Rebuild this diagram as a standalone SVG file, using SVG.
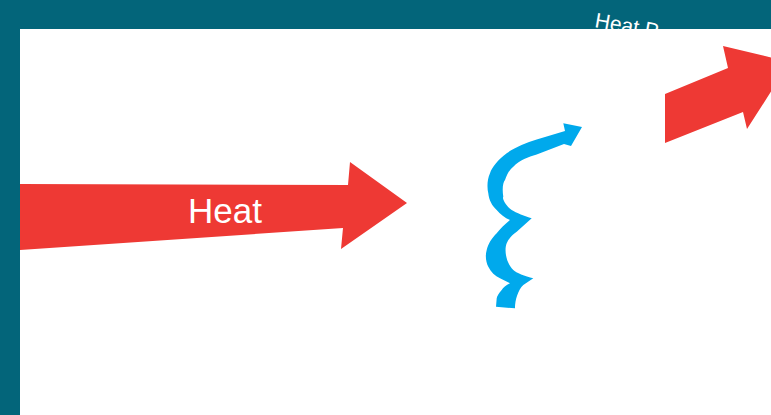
<svg xmlns="http://www.w3.org/2000/svg" width="771" height="415" viewBox="0 0 771 415">
<style>
.red{fill:#ee3934}
.blue{fill:#00a9ec}
.lbl{font-family:"Liberation Sans",Arial,sans-serif;fill:#ffffff}
</style>
<rect x="0" y="0" width="771" height="415" fill="#03657a"/>
<g id="heat-top-label">
<text class="lbl" x="594" y="27" font-size="21" transform="rotate(10 594 27)">Heat P</text>
</g>
<rect x="20" y="29" width="751" height="386" fill="#ffffff"/>
<g id="connectors">
<g id="heat-arrow">
<polygon class="red" points="20,184 348,185 350,162 407,203 341,249 343,228 20,250"/>
<text class="lbl" x="188" y="223" font-size="35">Heat</text>
</g>
<g id="radiated-arrow">
<polygon class="red" points="665,94 728,68 723,46 790,62 747,129 743,112 665,143"/>
</g>
<g id="wavy-arrow">
<path class="blue" d="M496,306.7 L515,308.3 C515,300 518,290 523.3,285 L533.3,278.3 C525,276 516,273 513.3,270 C506,263 504,250 506.7,243.3 C509,238 513,234 516.7,231.7 L531.7,218.3 C525,216 516,213 511.7,210 C505,205 502,198 503.3,196.7 C502,189 503,182 505,180 C507,174 510,169 513.3,166.7 C520,160 528,157 536.7,154.5 L564,144 L571,146 L582,127 L563.3,123.3 L565,131 L536.7,139.5 C526,143 515,147 506.7,153.3 C498,160 492,167 490,173.3 C487,180 487,188 488.3,193.3 C489,200 492,206 496.7,210 C500,214 505,218 510,220 C505,224 500,229 496.7,233.3 C492,238 488,244 486.7,250 C485,256 486,262 488.3,266.7 C491,272 495,276 500,278.3 L510,283.3 C506,285 503,288 501.7,290 C499,293 497,296 496.7,298.3 Z"/>
</g>
</g>
</svg>
